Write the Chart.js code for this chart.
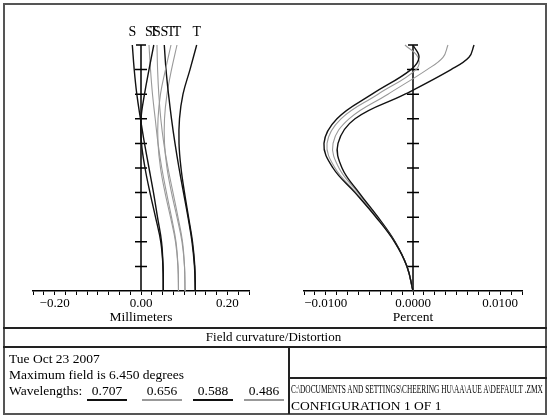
<!DOCTYPE html>
<html>
<head>
<meta charset="utf-8">
<script src="https://cdn.jsdelivr.net/npm/chart.js@4.4.0/dist/chart.umd.min.js"></script>
<style>
  body { margin:0; background:#fff; width:547px; height:416px; overflow:hidden;
         font-family:"Liberation Serif","Times New Roman",serif; color:#000; }
  canvas { position:absolute; top:0; }
  #curv { left:0; }
  #dist { left:275px; }
  .frame { position:absolute; left:3px; top:3px; width:544px; height:412px;
           border:2px solid #555; box-sizing:border-box; }
  .hl { position:absolute; height:1.5px; background:#222; }
  .vl { position:absolute; width:1.5px; background:#222; }
  .txt { position:absolute; height:18px; line-height:18px; white-space:nowrap; font-size:13.5px; }
  .wl { position:absolute; width:44px; text-align:center; height:18px; line-height:18px; font-size:13.5px; }
  .ul { position:absolute; width:40px; height:1.5px; }
</style>
</head>
<body>
<div class="frame"></div>
<canvas id="curv" width="280" height="330"></canvas>
<canvas id="dist" width="272" height="330"></canvas>

<div class="hl" style="left:3px; width:544px; top:327px"></div>
<div class="hl" style="left:3px; width:544px; top:346px"></div>
<div class="vl" style="left:288px; top:346px; height:68px"></div>
<div class="hl" style="left:288px; width:259px; top:377px"></div>

<div class="txt" style="left:0; width:547px; text-align:center; top:328px; font-size:13px">Field curvature/Distortion</div>
<div class="txt" style="left:9px; top:350px">Tue Oct 23 2007</div>
<div class="txt" style="left:9px; top:366px">Maximum field is 6.450 degrees</div>
<div class="txt" style="left:9px; top:382px">Wavelengths:</div>
<div id="wlRow"></div>
<div class="txt" id="path" style="left:291px; top:380px; font-size:12px; transform-origin:0 50%">C:\DOCUMENTS AND SETTINGS\CHEERING HU\AA\AUE A\DEFAULT .ZMX</div>
<div class="txt" style="left:291px; top:397px">CONFIGURATION 1 OF 1</div>

<script>
// ----- DATA -----
const wavelengths = ['0.707', '0.656', '0.588', '0.486'];
const waveColors = ['#111111', '#999999', '#111111', '#999999'];
const fieldMax = 6.45;

// field curvature (mm) vs field (degrees)
const curvField = [0, 0.645, 1.29, 1.935, 2.58, 3.225, 3.87, 4.515, 5.16, 5.805, 6.45];
const sag707 = [0.0516, 0.0509, 0.0475, 0.0382, 0.0289, 0.0185, 0.0081, -0.0012, -0.0097, -0.0157, -0.0201];
const tan707 = [0.0516, 0.0509, 0.0458, 0.0336, 0.0208, 0.0093, 0.0012, 0.0000, 0.0081, 0.0185, 0.0296];
const sag656 = [0.0868, 0.0856, 0.0810, 0.0706, 0.0590, 0.0481, 0.0394, 0.0329, 0.0266, 0.0220, 0.0185];
const tan656 = [0.0868, 0.0856, 0.0799, 0.0683, 0.0556, 0.0451, 0.0394, 0.0394, 0.0451, 0.0567, 0.0694];
const sag588 = [0.1257, 0.1238, 0.1181, 0.1088, 0.0984, 0.0880, 0.0787, 0.0706, 0.0637, 0.0579, 0.0539];
const tan588 = [0.1257, 0.1245, 0.1192, 0.1100, 0.1007, 0.0926, 0.0880, 0.0891, 0.0972, 0.1134, 0.1289];
const sag486 = [0.1019, 0.1007, 0.0961, 0.0856, 0.0741, 0.0625, 0.0528, 0.0458, 0.0412, 0.0384, 0.0370];
const tan486 = [0.1019, 0.1007, 0.0949, 0.0833, 0.0706, 0.0602, 0.0544, 0.0544, 0.0602, 0.0706, 0.0833];

// distortion (percent) vs field (degrees)
const distField = [0, 0.645, 1.29, 1.935, 2.58, 3.225, 3.87, 4.515, 5.16, 5.805, 6.1275, 6.45];
const dist707 = [0, -0.00069, -0.00212, -0.00424, -0.00665, -0.00917, -0.01021, -0.00872, -0.00470, -0.00023, 0.00069, 0.00000];
const dist656 = [0, -0.00069, -0.00212, -0.00419, -0.00654, -0.00894, -0.00986, -0.00826, -0.00401, 0.00034, 0.00057, -0.00092];
const dist588 = [0, -0.00069, -0.00206, -0.00401, -0.00619, -0.00814, -0.00860, -0.00665, -0.00092, 0.00436, 0.00642, 0.00700];
const dist486 = [0, -0.00069, -0.00206, -0.00413, -0.00631, -0.00849, -0.00917, -0.00734, -0.00287, 0.00161, 0.00344, 0.00401];

// axis ranges and labelled ticks
const mmRange = [-0.25, 0.25], mmStep = 0.025, mmLabels = [-0.2, 0, 0.2];
const pctRange = [-0.0125, 0.0125], pctStep = 0.00125, pctLabels = [-0.01, 0, 0.01];

Chart.defaults.font.family = '"Liberation Serif", "Times New Roman", serif';
Chart.defaults.color = '#000';

function pairs(xs, ys) { return xs.map((v, i) => ({ x: v, y: ys[i] })); }

function fmt(v, labels, digits) {
  const hit = labels.find(l => Math.abs(l - v) < 1e-9);
  if (hit === undefined) return '';
  const s = Math.abs(hit).toFixed(digits);
  return hit < 0 ? '\u2212' + s : s;
}

// vertical axis through zero with crossing ticks, plus S/T tags at curve tops
const centerAxis = {
  id: 'centerAxis',
  beforeDatasetsDraw(chart) {
    const { ctx, scales: { x, y } } = chart;
    const x0 = x.getPixelForValue(0);
    ctx.save();
    ctx.strokeStyle = '#000';
    ctx.lineWidth = 1.5;
    ctx.beginPath();
    ctx.moveTo(x0, y.getPixelForValue(0));
    ctx.lineTo(x0, y.getPixelForValue(fieldMax));
    for (let i = 1; i <= 10; i++) {
      const py = y.getPixelForValue(fieldMax * i / 10);
      const half = i === 10 ? 5 : 6;
      ctx.moveTo(x0 - half, py);
      ctx.lineTo(x0 + half, py);
    }
    ctx.stroke();
    ctx.restore();
  },
  afterDatasetsDraw(chart) {
    const { ctx, scales: { x } } = chart;
    ctx.save();
    ctx.fillStyle = '#000';
    ctx.font = '14px "Liberation Serif", serif';
    ctx.textAlign = 'center';
    ctx.textBaseline = 'middle';
    chart.data.datasets.forEach(ds => {
      if (!ds.tag) return;
      const top = ds.data[ds.data.length - 1];
      ctx.fillText(ds.tag, x.getPixelForValue(top.x), chart.chartArea.top - 13);
    });
    ctx.restore();
  }
};

function makeChart(id, datasets, range, step, labels, digits, title, pad) {
  return new Chart(document.getElementById(id), {
    type: 'scatter',
    data: { datasets },
    options: {
      responsive: false,
      animation: false,
      layout: { padding: { left: pad[0], right: pad[1], top: 45, bottom: 0 } },
      plugins: { legend: { display: false }, tooltip: { enabled: false } },
      elements: { point: { radius: 0 } },
      scales: {
        x: {
          type: 'linear', min: range[0], max: range[1],
          afterBuildTicks: axis => {
            const t = [];
            for (let v = range[0]; v <= range[1] + step / 2; v += step) t.push({ value: +v.toFixed(6) });
            axis.ticks = t;
          },
          afterFit: s => { s.height = 39; },
          ticks: { autoSkip: false, maxRotation: 0, padding: 1, font: { size: 13 },
                   callback: v => fmt(v, labels, digits) },
          grid: { display: true, drawOnChartArea: false, drawTicks: true, tickLength: 4, color: '#000', lineWidth: 1 },
          border: { display: true, color: '#000', width: 1.5 },
          title: { display: true, text: title, font: { size: 13.5 }, padding: { top: 0, bottom: 4 } }
        },
        y: { type: 'linear', min: 0, max: fieldMax, display: false }
      }
    },
    plugins: [centerAxis]
  });
}

const curvSets = [
  ['S', sag707, 0], ['T', tan707, 0],
  ['S', sag656, 1], ['T', tan656, 1],
  ['S', sag588, 2], ['T', tan588, 2],
  ['S', sag486, 3], ['T', tan486, 3]
].map(([tag, vals, w]) => ({
  tag, data: pairs(vals, curvField), showLine: true, tension: 0.4, clip: false,
  borderColor: waveColors[w], borderWidth: w % 2 ? 1.1 : 1.4
}));

const distSets = [dist707, dist656, dist588, dist486].map((vals, w) => ({
  data: pairs(vals, distField), showLine: true, tension: 0.4, clip: false,
  borderColor: waveColors[w], borderWidth: w % 2 ? 1.1 : 1.4
}));

makeChart('curv', curvSets, mmRange, mmStep, mmLabels, 2, 'Millimeters', [33, 31]);
makeChart('dist', distSets, pctRange, pctStep, pctLabels, 4, 'Percent', [29, 25]);

// wavelength row with coloured underlines
const wlCenters = [107, 162, 213, 264];
const row = document.getElementById('wlRow');
wavelengths.forEach((w, i) => {
  const t = document.createElement('div');
  t.className = 'wl';
  t.style.left = (wlCenters[i] - 22) + 'px';
  t.style.top = '382px';
  t.textContent = w;
  row.appendChild(t);
  const u = document.createElement('div');
  u.className = 'ul';
  u.style.left = (wlCenters[i] - 20) + 'px';
  u.style.top = '399px';
  u.style.background = waveColors[i];
  row.appendChild(u);
});

// squeeze the file path into its cell
const path = document.getElementById('path');
path.style.transform = 'scaleX(' + (252 / path.scrollWidth) + ')';
</script>
</body>
</html>
